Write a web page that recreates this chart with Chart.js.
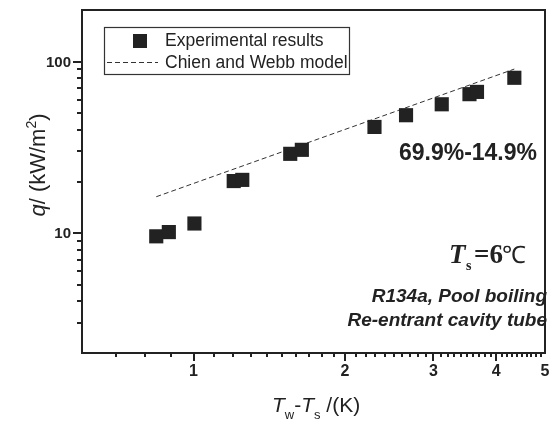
<!DOCTYPE html>
<html>
<head>
<meta charset="utf-8">
<script src="https://cdn.jsdelivr.net/npm/chart.js@4.4.1/dist/chart.umd.min.js"></script>
<style>
  body { margin: 0; background: #fff; }
  #wrap { width: 557px; height: 423px; }
</style>
</head>
<body>
<div id="wrap"><canvas id="boilingChart" width="557" height="423"></canvas></div>
<script>
// wall superheat Tw-Ts (K) and heat flux q (kW/m2)
const superheat = [0.843, 0.893, 1.004, 1.202, 1.25, 1.557, 1.642, 2.29, 2.646, 3.116, 3.538, 3.662, 4.345];
const heatFlux = [9.58, 10.14, 11.38, 20.12, 20.44, 29.0, 30.6, 41.6, 48.7, 56.4, 64.6, 66.6, 80.5];
// Chien and Webb prediction, straight on log-log
const modelSuperheat = [0.843, 4.345];
const modelHeatFlux = [16.3, 90.5];

const xTickLabels = [1, 2, 3, 4, 5];
const yTickLabels = [10, 100];
const xRange = [0.6, 5];
const yRange = [2, 200];

const ink = '#222';
const sans = '"Liberation Sans", Arial, sans-serif';
const serif = '"Liberation Serif", "Times New Roman", serif';

function pairs(xs, ys) {
  return xs.map((x, i) => ({ x: x, y: ys[i] }));
}

// draws frame, log ticks, tick labels, titles, legend and notes
const decorations = {
  id: 'decorations',
  afterDraw(chart) {
    const ctx = chart.ctx;
    const a = chart.chartArea;
    const xs = chart.scales.x;
    const ys = chart.scales.y;
    ctx.save();
    ctx.strokeStyle = ink;
    ctx.fillStyle = ink;

    // x ticks, every 0.1 up to 5
    ctx.lineWidth = 2;
    for (let k = 7; k < 50; k++) {
      const px = Math.round(xs.getPixelForValue(k / 10));
      const len = k % 10 === 0 ? 8 : 4;
      ctx.beginPath();
      ctx.moveTo(px, a.bottom);
      ctx.lineTo(px, a.bottom + len);
      ctx.stroke();
    }
    // y ticks on the two decades
    [1, 10].forEach(dec => {
      for (let m = 1; m <= 9; m++) {
        const v = m * dec;
        if (v < yRange[0] || v === 1 || v === 2) continue;
        const py = Math.round(ys.getPixelForValue(v));
        const len = m === 1 ? 9 : 5;
        ctx.beginPath();
        ctx.moveTo(a.left, py);
        ctx.lineTo(a.left - len, py);
        ctx.stroke();
      }
    });
    const py100 = Math.round(ys.getPixelForValue(100));
    ctx.beginPath();
    ctx.moveTo(a.left, py100);
    ctx.lineTo(a.left - 9, py100);
    ctx.stroke();

    // frame
    ctx.lineWidth = 2;
    ctx.strokeRect(a.left, a.top, a.right - a.left, a.bottom - a.top);

    // tick labels
    ctx.font = 'bold 16px ' + sans;
    ctx.textAlign = 'center';
    ctx.textBaseline = 'middle';
    xTickLabels.forEach(v => {
      ctx.fillText(String(v), xs.getPixelForValue(v), a.bottom + 19);
    });
    ctx.font = 'bold 15px ' + sans;
    ctx.textAlign = 'right';
    yTickLabels.forEach(v => {
      ctx.fillText(String(v), a.left - 11, ys.getPixelForValue(v) + 1);
    });

    // x title: Tw-Ts /(K)
    ctx.textAlign = 'left';
    ctx.textBaseline = 'alphabetic';
    let x = 272;
    const base = 412;
    const pieces = [
      ['T', 'italic 21px ' + sans, 0],
      ['w', '13px ' + sans, 7],
      ['-', '21px ' + sans, 0],
      ['T', 'italic 21px ' + sans, 0],
      ['s', '13px ' + sans, 7],
      [' /(K)', '21px ' + sans, 0]
    ];
    pieces.forEach(p => {
      ctx.font = p[1];
      ctx.fillText(p[0], x, base + p[2]);
      x += ctx.measureText(p[0]).width;
    });

    // y title: q/ (kW/m2)
    const yPieces = [
      ['q', 'italic 22px ' + sans, 0],
      ['/ (kW/m', '22px ' + sans, 0],
      ['2', '14px ' + sans, -9],
      [')', '22px ' + sans, 0]
    ];
    let total = 0;
    yPieces.forEach(p => { ctx.font = p[1]; total += ctx.measureText(p[0]).width; });
    ctx.save();
    ctx.translate(45, 165);
    ctx.rotate(-Math.PI / 2);
    let t = -total / 2;
    yPieces.forEach(p => {
      ctx.font = p[1];
      ctx.fillText(p[0], t, p[2]);
      t += ctx.measureText(p[0]).width;
    });
    ctx.restore();

    // legend
    ctx.lineWidth = 1.2;
    ctx.strokeStyle = '#333';
    ctx.strokeRect(104.5, 27.5, 245, 47);
    ctx.fillRect(133, 34, 14, 14);
    ctx.lineWidth = 1;
    ctx.setLineDash([5, 3]);
    ctx.beginPath();
    ctx.moveTo(107, 62.5);
    ctx.lineTo(158, 62.5);
    ctx.stroke();
    ctx.setLineDash([]);
    ctx.font = '17.5px ' + sans;
    ctx.textBaseline = 'middle';
    ctx.fillText('Experimental results', 165, 41);
    ctx.fillText('Chien and Webb model', 165, 63);

    // notes
    ctx.textAlign = 'right';
    ctx.font = 'bold 23px ' + sans;
    ctx.fillText('69.9%-14.9%', 537, 154);
    ctx.font = 'italic bold 19px ' + sans;
    ctx.fillText('R134a, Pool boiling', 547, 297);
    ctx.fillText('Re-entrant cavity tube', 547, 321);

    // Ts=6℃
    ctx.textAlign = 'left';
    ctx.textBaseline = 'alphabetic';
    ctx.font = 'italic bold 27px ' + serif;
    ctx.fillText('T', 449, 263);
    ctx.font = 'bold 14px ' + serif;
    ctx.fillText('s', 466, 270);
    ctx.font = 'bold 27px ' + serif;
    ctx.fillText('=6', 474, 263);
    ctx.font = '24px ' + serif;
    ctx.fillText('\u2103', 502, 263);

    ctx.restore();
  }
};

new Chart(document.getElementById('boilingChart'), {
  type: 'scatter',
  data: {
    datasets: [
      {
        label: 'Experimental results',
        data: pairs(superheat, heatFlux),
        pointStyle: 'rect',
        pointRadius: 10,
        pointHoverRadius: 10,
        backgroundColor: ink,
        borderWidth: 0,
        showLine: false
      },
      {
        label: 'Chien and Webb model',
        data: pairs(modelSuperheat, modelHeatFlux),
        showLine: true,
        borderColor: '#333',
        borderWidth: 1,
        borderDash: [5, 3],
        pointRadius: 0,
        fill: false
      }
    ]
  },
  options: {
    responsive: false,
    animation: false,
    devicePixelRatio: 1,
    layout: { padding: { left: 0, right: 12, top: 9, bottom: 0 } },
    plugins: { legend: { display: false }, tooltip: { enabled: false } },
    scales: {
      x: {
        type: 'logarithmic',
        min: xRange[0],
        max: xRange[1],
        grid: { display: false },
        border: { display: false },
        ticks: { display: false },
        afterFit(scale) { scale.height = 70; }
      },
      y: {
        type: 'logarithmic',
        min: yRange[0],
        max: yRange[1],
        grid: { display: false },
        border: { display: false },
        ticks: { display: false },
        afterFit(scale) { scale.width = 82; }
      }
    }
  },
  plugins: [decorations]
});
</script>
</body>
</html>
